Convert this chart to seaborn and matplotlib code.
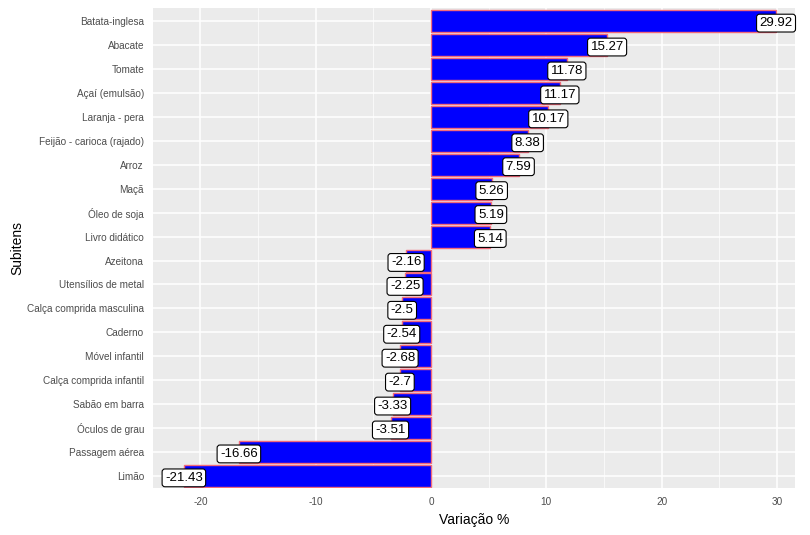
# plot.py
# Variação % por subitem - barras horizontais

import seaborn as sns

import matplotlib.pyplot as plt
import pandas as pd

subitens = ["Batata-inglesa", "Abacate", "Tomate", "Açaí (emulsão)", "Laranja - pera",
            "Feijão - carioca (rajado)", "Arroz", "Maçã", "Óleo de soja", "Livro didático",
            "Azeitona", "Utensílios de metal", "Calça comprida masculina", "Caderno",
            "Móvel infantil", "Calça comprida infantil", "Sabão em barra", "Óculos de grau",
            "Passagem aérea", "Limão"]
variacao = [29.92, 15.27, 11.78, 11.17, 10.17, 8.38, 7.59, 5.26, 5.19, 5.14,
            -2.16, -2.25, -2.5, -2.54, -2.68, -2.7, -3.33, -3.51, -16.66, -21.43]
x_ticks = [-20, -10, 0, 10, 20, 30]


def plot_variacao():
    df = pd.DataFrame({"Subitens": subitens, "Variacao": variacao})

    sns.set_style("darkgrid", {"axes.facecolor": "#EBEBEB", "grid.color": "white"})
    plt.rcParams['font.family'] = ['Liberation Sans', 'DejaVu Sans']

    fig, ax = plt.subplots(figsize=(8.1, 5.35), dpi=100)
    sns.barplot(data=df, x="Variacao", y="Subitens", order=subitens, orient="h",
                color="#0000FF", saturation=1, width=0.92,
                edgecolor="#F26A7A", linewidth=1.0, ax=ax)

    for i, v in enumerate(variacao):
        label = f"{v:g}"
        ax.text(v, i + 0.08, label, ha="center", va="center", fontsize=9.5, color="black",
                bbox=dict(boxstyle="round,pad=0.22", facecolor="white", edgecolor="black", linewidth=0.8))

    ax.set_xlim(-24.1, 31.6)
    ax.set_ylim(len(subitens) - 0.5 + 0.0, -0.55)
    ax.set_xticks(x_ticks)
    ax.set_xticklabels([str(t) for t in x_ticks])
    ax.set_xticks([-15, -5, 5, 15, 25], minor=True)
    ax.grid(which="major", color="white", linewidth=1.1)
    ax.grid(which="minor", axis="x", color="white", linewidth=0.5)
    ax.set_axisbelow(True)
    for s in ax.spines.values():
        s.set_visible(False)

    ax.tick_params(axis="both", which="major", length=3, color="#333333", labelsize=7.2, labelcolor="#4D4D4D")
    ax.tick_params(axis="both", which="minor", length=0)
    ax.set_xlabel("Variação %", fontsize=10, color="black")
    ax.set_ylabel("Subitens", fontsize=10, color="black")
    ax.yaxis.set_label_coords(-0.2, 0.5)

    plt.subplots_adjust(left=0.189, right=0.982, top=0.985, bottom=0.088)
    plt.savefig("out.png", dpi=100)


if __name__ == "__main__":
    plot_variacao()
